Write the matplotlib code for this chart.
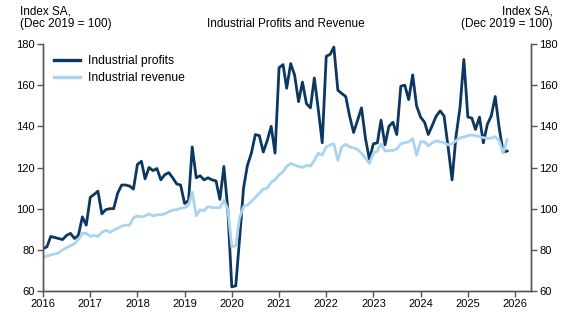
import numpy as np
import pandas as pd
import matplotlib
matplotlib.use("Agg")
import matplotlib.pyplot as plt
import matplotlib.dates as mdates

plt.rcParams['font.family'] = ['Liberation Sans', 'DejaVu Sans']

# monthly index, Jan 2016 - Nov 2025
profits_2016 = [80.5, 81.5, 86.5, 86, 85.5, 85, 87, 88, 85.5, 87, 96, 92]
profits_2017 = [105.5, 107, 108.5, 97.5, 99.5, 100, 100, 107.5, 111.5, 111.5, 111, 109.5]
profits_2018 = [121.5, 123, 114.5, 120, 118.5, 119.5, 114, 116.5, 117.5, 115, 112, 111.5]
profits_2019 = [102.5, 104, 130, 115, 116, 114, 115, 114, 113.5, 104.5, 120.5, 100]
profits_2020 = [62, 62.5, 85, 110, 121, 127, 136, 135.5, 127.5, 133, 140, 127]
profits_2021 = [168.5, 170, 158.5, 170.5, 165, 152, 161.5, 151, 149, 163.5, 148, 132]
profits_2022 = [174, 175, 178.5, 157.5, 156, 154.5, 145, 137, 143, 149, 134, 124]
profits_2023 = [131.5, 132, 143, 131, 140, 142, 136, 159.5, 160, 153, 165, 150]
profits_2024 = [144.5, 142, 136, 140.5, 145, 147.5, 145, 130, 114, 135, 149, 172.5]
profits_2025 = [144.5, 144, 138.5, 144.5, 132, 141, 145, 154.5, 139, 127.5, 128]

revenue_2016 = [76.5, 77, 77.5, 78, 78.5, 80, 81, 82, 83, 85, 88, 88]
revenue_2017 = [86.5, 87, 86.5, 88.5, 89.5, 88.5, 89.5, 90.5, 91.5, 92, 92, 95.5]
revenue_2018 = [96.5, 96, 96.5, 97.5, 96.5, 97, 97, 97.5, 98.5, 99.3, 99.5, 100.2]
revenue_2019 = [100.5, 101.8, 108, 96.5, 99.5, 99, 101, 100.5, 100.5, 100.5, 104, 100]
revenue_2020 = [81.5, 82, 95.5, 101, 101.8, 103.5, 105.5, 107.5, 109.5, 110, 112.8, 114]
revenue_2021 = [116.5, 118, 120.5, 122, 121.2, 120.5, 120, 121, 120.7, 123.5, 127, 126]
revenue_2022 = [130, 131, 131.5, 123.5, 130, 131.3, 130, 129.5, 128.8, 127, 124.5, 122]
revenue_2023 = [127, 128, 131.5, 128, 128.2, 128.3, 129, 131.5, 132, 132.5, 134, 126]
revenue_2024 = [132.5, 132.5, 130.5, 132, 133, 132.5, 132, 131, 131.5, 133, 134.5, 134.7]
revenue_2025 = [135.5, 135.8, 135.5, 135, 134.5, 134.2, 134.2, 135, 133, 127, 133.5]

profits = (profits_2016 + profits_2017 + profits_2018 + profits_2019 + profits_2020
           + profits_2021 + profits_2022 + profits_2023 + profits_2024 + profits_2025)
revenue = (revenue_2016 + revenue_2017 + revenue_2018 + revenue_2019 + revenue_2020
           + revenue_2021 + revenue_2022 + revenue_2023 + revenue_2024 + revenue_2025)
dates = pd.date_range('2016-01-01', periods=len(profits), freq='MS')

navy = '#0b3762'
light = '#a9d3f1'
grey = '#555555'

fig = plt.figure(figsize=(5.73, 3.22), dpi=100)
ax = fig.add_axes([0.075, 0.0963, 0.852, 0.767])

ax.plot(dates, profits, color=navy, lw=2.0, label='Industrial profits')
ax.plot(dates, revenue, color=light, lw=2.0, label='Industrial revenue')

ax.set_ylim(60, 180)
ax.set_yticks(np.arange(60, 181, 20))
ax.set_xlim(pd.Timestamp('2016-01-01'), pd.Timestamp('2026-05-06'))
ax.xaxis.set_major_locator(mdates.YearLocator())
ax.xaxis.set_major_formatter(mdates.DateFormatter('%Y'))

ax2 = ax.twinx()
ax2.set_ylim(60, 180)
ax2.set_yticks(np.arange(60, 181, 20))

for a in (ax, ax2):
    a.spines['top'].set_visible(False)
    for s in ('left', 'right', 'bottom'):
        a.spines[s].set_color(grey)
        a.spines[s].set_linewidth(1.0)
    a.tick_params(colors=grey, labelcolor='black', labelsize=8, length=4, width=1, direction='out', pad=2)

# legend top left, no frame
leg = ax.legend(loc='upper left', frameon=False, fontsize=8.7, handlelength=2.2,
                handletextpad=0.65, bbox_to_anchor=(0.0, 1.0), borderaxespad=0.5,
                labelspacing=0.45)
for h in leg.get_lines():
    h.set_linewidth(2.4)

fig.text(20 / 573, 1 - 30 / 322, 'Index SA,\n(Dec 2019 = 100)', ha='left', va='bottom',
         fontsize=8.5, linespacing=1.05)
fig.text(553 / 573, 1 - 30 / 322, 'Index SA,\n(Dec 2019 = 100)', ha='right', va='bottom',
         fontsize=8.5, linespacing=1.05, multialignment='right')
fig.text(286 / 573, 1 - 30 / 322, 'Industrial Profits and Revenue', ha='center', va='bottom',
         fontsize=8.5)

fig.savefig('out.png', dpi=100)
